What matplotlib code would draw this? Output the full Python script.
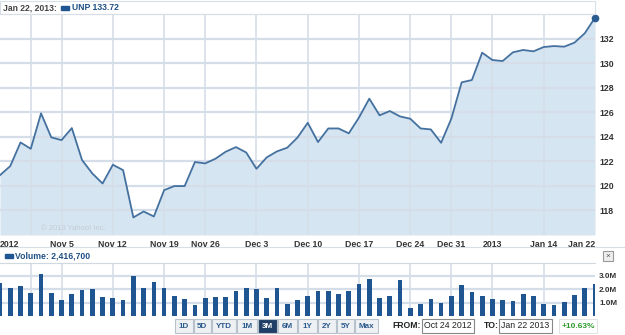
import matplotlib
matplotlib.use("Agg")
import matplotlib.pyplot as plt
from matplotlib.patches import Rectangle

# UNP daily close, Oct 24 2012 .. Jan 22 2013 (trading days)
price = [120.88, 121.62, 123.55, 123.03, 125.92, 123.96, 123.74, 124.72, 122.11, 121.02,
         120.20, 121.73, 121.29, 117.43, 117.92, 117.51, 119.66, 119.99, 119.99, 121.95,
         121.84, 122.22, 122.79, 123.17, 122.73, 121.40, 122.33, 122.82, 123.12, 123.95,
         125.15, 123.58, 124.69, 124.69, 124.29, 125.59, 127.12, 125.76, 126.11, 125.67,
         125.48, 124.69, 124.61, 123.52, 125.50, 128.45, 128.64, 130.87, 130.27, 130.19,
         130.90, 131.09, 130.98, 131.33, 131.41, 131.36, 131.69, 132.45, 133.72]

# volume in millions
volume = [2.45, 2.05, 2.22, 1.75, 3.10, 1.75, 1.18, 1.62, 1.95, 2.00,
          1.40, 1.35, 1.18, 2.95, 2.05, 2.52, 2.12, 1.52, 1.25, 0.80,
          1.35, 1.40, 1.45, 1.88, 2.12, 1.98, 1.35, 2.12, 0.92, 1.22,
          1.52, 1.88, 1.88, 1.62, 1.88, 2.40, 2.75, 1.35, 1.52, 2.70,
          0.60, 0.92, 1.30, 0.98, 1.52, 2.30, 1.80, 1.52, 1.25, 1.18,
          1.10, 1.62, 1.52, 0.88, 0.82, 1.02, 1.58, 2.05, 2.42]

# weekly gridlines (index of first trading day of week)
grid_idx = [3, 6, 11, 16, 20, 25, 30, 35, 40, 44, 48, 53]
tick_idx = [0, 3, 6, 11, 16, 20, 25, 30, 35, 40, 44, 48, 53, 58]
tick_labels = ["2012", "", "Nov 5", "Nov 12", "Nov 19", "Nov 26", "Dec 3", "Dec 10",
               "Dec 17", "Dec 24", "Dec 31", "2013", "Jan 14", "Jan 22"]
price_ticks = [118, 120, 122, 124, 126, 128, 130, 132]
vol_ticks = [1, 2, 3]
vol_tick_labels = ["1.0M", "2.0M", "3.0M"]
buttons = ["1D", "5D", "YTD", "1M", "3M", "6M", "1Y", "2Y", "5Y", "Max"]

W, H = 625, 335
line_c = "#44719f"
fill_c = "#d5e5f1"
grid_c = "#d5dee8"
bar_c = "#1f5590"
txt_c = "#333333"
blue_t = "#1f4f85"

plt.rcParams["font.family"] = ["Liberation Sans", "DejaVu Sans"]
fig = plt.figure(figsize=(W / 100, H / 100), dpi=100)
fig.patch.set_facecolor("white")

def fx(px):
    return px / W

def fy(py):
    return 1 - py / H

x = list(range(len(price)))

# main price chart
ax = fig.add_axes([0, fy(235), fx(595), fy(14.3) - fy(235)])
ax.fill_between(x, price, 116, color=fill_c, lw=0, zorder=1)
ax.plot(x, price, color=line_c, lw=1.3, zorder=3)
ax.plot(x[-1], price[-1], "o", color="#2a5c92", ms=4.5, zorder=4, clip_on=False)
ax.set_xlim(0, len(price) - 1)
ax.set_ylim(116, 134)
for g in grid_idx:
    ax.axvline(g, color=grid_c, lw=1.2, zorder=2)
for p in price_ticks:
    ax.axhline(p, color=grid_c, lw=1.6, zorder=2)
ax.set_xticks(tick_idx)
ax.set_xticklabels(tick_labels, fontsize=6.3, fontweight="bold", color=txt_c)
lbls = ax.get_xticklabels()
lbls[0].set_ha("left")
lbls[-1].set_ha("right")
ax.yaxis.tick_right()
ax.set_yticks(price_ticks)
ax.set_yticklabels([str(p) for p in price_ticks], fontsize=6.3, fontweight="bold", color=txt_c)
ax.tick_params(axis="x", length=0, pad=3.5)
ax.tick_params(axis="y", length=0, pad=3)
for s in ["left", "bottom", "right"]:
    ax.spines[s].set_visible(False)
ax.spines["top"].set_color("#d0d8e0")
ax.text(4, 116.4, "\u00a9 2013 Yahoo! Inc.", fontsize=5.5, color="#c3ccd6", zorder=5)

# volume chart
av = fig.add_axes([0, fy(316), fx(595), fy(262.7) - fy(316)])
av.bar(x, volume, width=0.46, color=bar_c, zorder=3)
av.set_xlim(0, len(volume) - 1)
av.set_ylim(0, 3.97)
for g in grid_idx:
    av.axvline(g, color=grid_c, lw=1.2, zorder=1)
for v in vol_ticks:
    av.axhline(v, color=grid_c, lw=1.6, zorder=1)
av.set_xticks([])
av.yaxis.tick_right()
av.set_yticks(vol_ticks)
av.set_yticklabels(vol_tick_labels, fontsize=5.9, fontweight="bold", color=txt_c)
av.tick_params(length=0, pad=3)
for s in ["left", "bottom", "right"]:
    av.spines[s].set_visible(False)
av.spines["top"].set_color("#d0d8e0")

# overlay in pixel coordinates for header and controls
ov = fig.add_axes([0, 0, 1, 1], zorder=10)
ov.set_xlim(0, W)
ov.set_ylim(H, 0)
ov.axis("off")
ov.patch.set_alpha(0)

ov.add_patch(Rectangle((0, 0.8), 595, 13.5, fill=False, ec="#d8dee5", lw=0.8))
ov.text(3, 7.5, "Jan 22, 2013:", fontsize=6.2, fontweight="bold", color="#444444", va="center")
ov.add_patch(Rectangle((61, 5.5), 8, 4, color=bar_c))
ov.text(72, 7.5, "UNP 133.72", fontsize=6.2, fontweight="bold", color=blue_t, va="center")

ov.plot([0, W], [247, 247], color="#d8dee5", lw=0.8)
ov.add_patch(Rectangle((5, 254), 8, 4, color=bar_c))
ov.text(15, 256, "Volume: 2,416,700", fontsize=6.2, fontweight="bold", color=blue_t, va="center")
ov.add_patch(Rectangle((603, 251), 10, 10, fc="#eeeeee", ec="#999999", lw=0.8))
ov.text(608, 256, "\u00d7", fontsize=6, color="#555555", ha="center", va="center")

# range buttons
bx = [175, 193.5, 212, 237, 258, 278, 298, 318, 337, 355]
bw = [17.5, 17.5, 24, 20, 19, 19, 19, 18, 17, 23]
for i, b in enumerate(buttons):
    sel = b == "3M"
    ov.add_patch(Rectangle((bx[i], 318.5), bw[i], 14.5,
                           fc="#203f66" if sel else "#eef1f4",
                           ec="#b8c2cc", lw=0.8))
    ov.text(bx[i] + bw[i] / 2, 326, b, fontsize=5.8, fontweight="bold",
            color="white" if sel else "#2b5a8c", ha="center", va="center")

ov.text(392, 326, "FROM:", fontsize=6.2, fontweight="bold", color="#222222", va="center")
ov.add_patch(Rectangle((422, 318.5), 52, 14.5, fc="white", ec="#888888", lw=0.8))
ov.text(424, 326, "Oct 24 2012", fontsize=6.3, color="#222222", va="center")
ov.text(484, 326, "TO:", fontsize=6.2, fontweight="bold", color="#222222", va="center")
ov.add_patch(Rectangle((499, 318.5), 53, 14.5, fc="white", ec="#888888", lw=0.8))
ov.text(501, 326, "Jan 22 2013", fontsize=6.3, color="#222222", va="center")
ov.add_patch(Rectangle((559, 318.5), 38, 14.5, fc="white", ec="#dddddd", lw=0.6))
ov.text(562, 326, "+10.63%", fontsize=6, fontweight="bold", color="#2e9a2e", va="center")

fig.savefig("out.png", dpi=100)
